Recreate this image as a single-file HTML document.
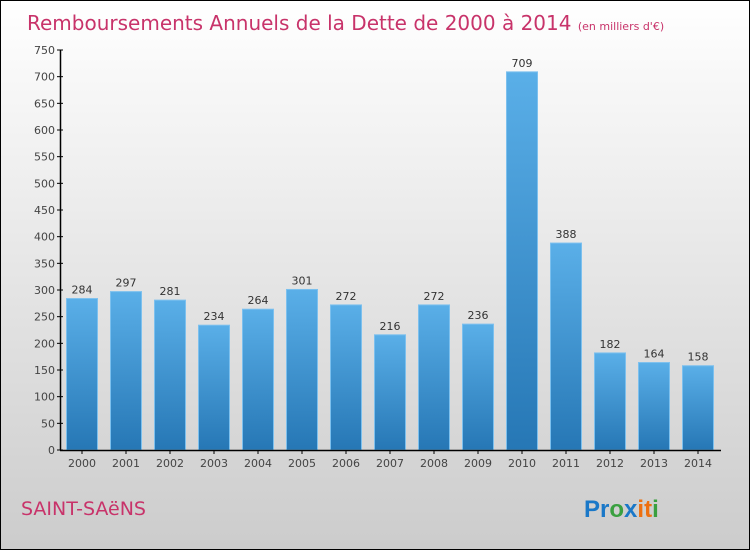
<!DOCTYPE html>
<html><head><meta charset="utf-8"><style>
body{margin:0}
#c{position:relative;width:748px;height:548px;border:1px solid #000;background:linear-gradient(#fff,#ccc);font-family:"DejaVu Sans","Liberation Sans",sans-serif;overflow:hidden}
</style></head><body>
<div id="c">
<svg id="s" width="748" height="548" xmlns="http://www.w3.org/2000/svg">
<defs><linearGradient id="g" x1="0" y1="0" x2="0" y2="1"><stop offset="0" stop-color="#5aafe8"/><stop offset="1" stop-color="#2677b5"/></linearGradient></defs>
<text x="26" y="29" font-size="20" fill="#c8336a">Remboursements Annuels de la Dette de 2000 à 2014 <tspan font-size="11">(en milliers d'€)</tspan></text>
<text x="20" y="514" font-size="19" fill="#c8336a">SAINT-SAëNS</text>
<g font-size="24" font-weight="bold" font-family="'Liberation Sans',sans-serif"><text x="583" y="516"><tspan fill="#1a78c8">Pr</tspan><tspan fill="#3aa040">o</tspan><tspan fill="#1a78c8">x</tspan><tspan fill="#ee7010">i</tspan><tspan fill="#ee7010">t</tspan><tspan fill="#3aa040">i</tspan></text></g>
<g id="plot"></g>
</svg>
</div>
<script>
const years=["2000","2001","2002","2003","2004","2005","2006","2007","2008","2009","2010","2011","2012","2013","2014"];
const values=[284,297,281,234,264,301,272,216,272,236,709,388,182,164,158];
const yTicks=[0,50,100,150,200,250,300,350,400,450,500,550,600,650,700,750];
const NS="http://www.w3.org/2000/svg";
const p=document.getElementById('plot');
const y=v=>449-v*400/750;
const x=i=>81+i*44;
function mk(t,a){const e=document.createElementNS(NS,t);for(const k in a)e.setAttribute(k,a[k]);p.appendChild(e);return e;}
yTicks.forEach(t=>{
 const l=mk('line',{x1:56,x2:62,y1:y(t),y2:y(t),stroke:'#000'});
 
 
 const tx=mk('text',{x:54,y:y(t)+4,'font-size':11,'text-anchor':'end',fill:'#444'});tx.textContent=t;
 
 
});
values.forEach((v,i)=>{
 const r=mk('rect',{x:x(i)-15.5,y:y(v),width:31,height:y(0)-y(v),fill:'url(#g)',stroke:'#7cc0ee','stroke-width':1});
 
 
 const t=mk('text',{x:x(i),y:y(v)-5,'font-size':11,'text-anchor':'middle',fill:'#333'});t.textContent=v;
 
 
 const yl=mk('text',{x:x(i),y:466,'font-size':11,'text-anchor':'middle',fill:'#444'});yl.textContent=years[i];
 
 
 const tk=mk('line',{x1:x(i),x2:x(i),y1:449,y2:453,stroke:'#000'});
 
 
});
const ya=mk('line',{x1:59.5,x2:59.5,y1:y(750),y2:449.5,stroke:'#000','stroke-width':1.5});


const xa=mk('line',{x1:59,x2:720,y1:449.5,y2:449.5,stroke:'#000','stroke-width':1.5});


</script>
</body></html>
